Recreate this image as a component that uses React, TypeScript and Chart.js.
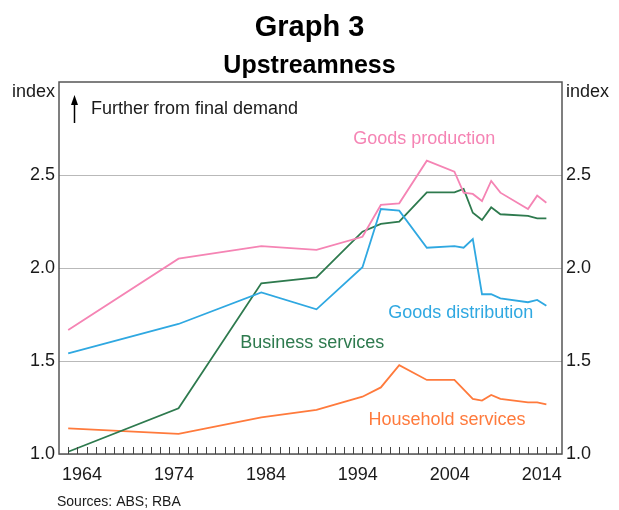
import React, { useEffect, useRef } from 'react';
import { Chart, registerables } from 'chart.js';

Chart.register(...registerables);

// ---- data ----
const YEARS = [1962.5, 1974.5, 1983.5, 1989.5, 1994.5, 1996.5, 1998.5, 2001.5, 2004.5, 2005.5, 2006.5, 2007.5, 2008.5, 2009.5, 2012.5, 2013.5, 2014.5];
const GOODS_PRODUCTION = [1.667, 2.05, 2.118, 2.097, 2.168, 2.339, 2.348, 2.577, 2.518, 2.405, 2.398, 2.36, 2.468, 2.405, 2.317, 2.389, 2.351];
const GOODS_DISTRIBUTION = [1.541, 1.699, 1.869, 1.778, 2.004, 2.317, 2.308, 2.109, 2.118, 2.109, 2.156, 1.859, 1.859, 1.837, 1.816, 1.828, 1.797];
const BUSINESS_SERVICES = [1.012, 1.246, 1.918, 1.95, 2.195, 2.237, 2.249, 2.407, 2.407, 2.425, 2.297, 2.258, 2.326, 2.289, 2.28, 2.267, 2.267];
const HOUSEHOLD_SERVICES = [1.138, 1.108, 1.197, 1.237, 1.308, 1.358, 1.478, 1.398, 1.398, 1.347, 1.296, 1.287, 1.317, 1.296, 1.278, 1.278, 1.267];
const X_TICK_LABELS = [1964, 1974, 1984, 1994, 2004, 2014];
const Y_TICKS = [1.0, 1.5, 2.0, 2.5];

const FONT = "'Liberation Sans', Arial, sans-serif";
const PINK = '#F584B4';
const BLUE = '#2FA8E1';
const GREEN = '#2E7A4E';
const ORANGE = '#FF7A3C';
const TEXT = '#1a1a1a';

const toPoints = (vals: number[]) => vals.map((v, i) => ({ x: YEARS[i], y: v }));

const annotPlugin = {
  id: 'annot',
  afterDraw(chart: any) {
    const { ctx, chartArea: a, scales } = chart;
    const xs = scales.x;
    const ys = scales.y;
    ctx.save();

    // frame
    ctx.strokeStyle = '#555555';
    ctx.lineWidth = 1.5;
    ctx.strokeRect(a.left, a.top, a.right - a.left, a.bottom - a.top);

    // inner year ticks along the bottom
    ctx.lineWidth = 1;
    ctx.strokeStyle = '#444444';
    ctx.beginPath();
    for (let yr = Math.ceil(xs.min - 0.5) + 0.5; yr < xs.max; yr += 1) {
      if (yr <= xs.min) continue;
      const px = Math.round(xs.getPixelForValue(yr)) + 0.5;
      ctx.moveTo(px, a.bottom);
      ctx.lineTo(px, a.bottom - 7);
    }
    ctx.stroke();

    // titles
    ctx.fillStyle = '#000';
    ctx.textAlign = 'center';
    ctx.textBaseline = 'alphabetic';
    ctx.font = `bold 29px ${FONT}`;
    ctx.fillText('Graph 3', chart.width / 2, 36);
    ctx.font = `bold 25px ${FONT}`;
    ctx.fillText('Upstreamness', chart.width / 2, 73);

    // unit labels
    ctx.fillStyle = TEXT;
    ctx.font = `18px ${FONT}`;
    ctx.textBaseline = 'middle';
    ctx.textAlign = 'right';
    ctx.fillText('index', a.left - 4, 92);
    ctx.textAlign = 'left';
    ctx.fillText('index', a.right + 4, 92);

    // arrow + note
    const ax = a.left + 15.5;
    ctx.strokeStyle = '#000';
    ctx.lineWidth = 1.5;
    ctx.beginPath();
    ctx.moveTo(ax, 123);
    ctx.lineTo(ax, 102);
    ctx.stroke();
    ctx.fillStyle = '#000';
    ctx.beginPath();
    ctx.moveTo(ax, 95);
    ctx.lineTo(ax - 3.5, 105);
    ctx.lineTo(ax + 3.5, 105);
    ctx.closePath();
    ctx.fill();
    ctx.fillStyle = TEXT;
    ctx.textAlign = 'left';
    ctx.fillText('Further from final demand', a.left + 32, 109);

    // series labels
    ctx.font = `18px ${FONT}`;
    const lab = (t: string, c: string, xv: number, yv: number) => {
      ctx.fillStyle = c;
      ctx.fillText(t, xs.getPixelForValue(xv), ys.getPixelForValue(yv));
    };
    lab('Goods production', PINK, 1993.5, 2.694);
    lab('Goods distribution', BLUE, 1997.3, 1.758);
    lab('Business services', GREEN, 1981.2, 1.597);
    lab('Household services', ORANGE, 1995.15, 1.183);

    // source
    ctx.fillStyle = TEXT;
    ctx.font = `14px ${FONT}`;
    ctx.fillText('Sources: ABS; RBA', a.left - 2, 502);

    ctx.restore();
  },
};

export default function App() {
  const ref = useRef<HTMLCanvasElement>(null);

  useEffect(() => {
    if (!ref.current) return;
    const tickFont = { family: FONT, size: 18 };
    const chart = new Chart(ref.current, {
      type: 'line',
      data: {
        datasets: [
          { label: 'Goods production', data: toPoints(GOODS_PRODUCTION), borderColor: PINK },
          { label: 'Goods distribution', data: toPoints(GOODS_DISTRIBUTION), borderColor: BLUE },
          { label: 'Business services', data: toPoints(BUSINESS_SERVICES), borderColor: GREEN },
          { label: 'Household services', data: toPoints(HOUSEHOLD_SERVICES), borderColor: ORANGE },
        ].map((d) => ({ ...d, borderWidth: 1.8, pointRadius: 0, tension: 0, fill: false })),
      },
      options: {
        animation: false,
        responsive: false,
        devicePixelRatio: 1,
        layout: { padding: { top: 82, left: 0, right: 0, bottom: 0 } },
        plugins: { legend: { display: false }, tooltip: { enabled: false }, title: { display: false } },
        scales: {
          x: {
            type: 'linear',
            min: 1961.5,
            max: 2016.2,
            grid: { display: false, drawTicks: false },
            border: { display: false },
            afterBuildTicks: (s: any) => {
              s.ticks = X_TICK_LABELS.map((v) => ({ value: v }));
            },
            afterFit: (s: any) => {
              s.height = 56;
            },
            ticks: {
              font: tickFont,
              color: TEXT,
              padding: 10,
              maxRotation: 0,
              autoSkip: false,
              callback: (v: any) => String(v),
            },
          },
          y: {
            position: 'left',
            min: 1,
            max: 3,
            grid: { color: '#b9b9b9', lineWidth: 1, drawTicks: false },
            border: { display: false },
            afterBuildTicks: (s: any) => {
              s.ticks = Y_TICKS.map((v) => ({ value: v }));
            },
            afterFit: (s: any) => {
              s.width = 59;
            },
            ticks: { font: tickFont, color: TEXT, padding: 4, callback: (v: any) => Number(v).toFixed(1) },
          },
          y2: {
            position: 'right',
            min: 1,
            max: 3,
            grid: { display: false, drawTicks: false },
            border: { display: false },
            afterBuildTicks: (s: any) => {
              s.ticks = Y_TICKS.map((v) => ({ value: v }));
            },
            afterFit: (s: any) => {
              s.width = 57;
            },
            ticks: { font: tickFont, color: TEXT, padding: 4, callback: (v: any) => Number(v).toFixed(1) },
          },
        },
      },
      plugins: [annotPlugin],
    } as any);
    return () => chart.destroy();
  }, []);

  return (
    <div style={{ position: 'absolute', left: 0, top: 0, width: 619, height: 510, background: '#fff' }}>
      <canvas ref={ref} width={619} height={510} />
    </div>
  );
}
